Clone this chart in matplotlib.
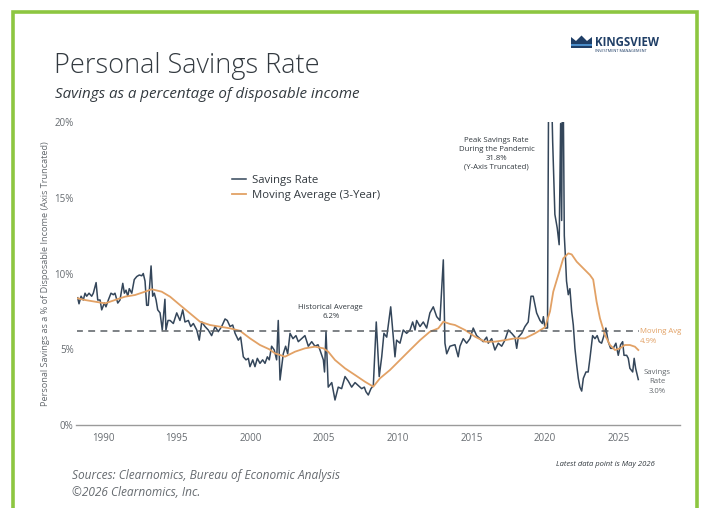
import matplotlib
matplotlib.use("Agg")
import matplotlib.pyplot as plt
from matplotlib.patches import Polygon, Rectangle

plt.rcParams['font.family'] = ['Open Sans', 'DejaVu Sans']

# savings rate (% of disposable income)
rate_years = [
    1988.28, 1988.37, 1988.51, 1988.66, 1988.78, 1988.89, 1989.05, 1989.23, 1989.34, 1989.53,
    1989.64, 1989.80, 1989.91, 1990.09, 1990.20, 1990.36, 1990.54, 1990.70, 1990.81, 1991.00,
    1991.15, 1991.34, 1991.45, 1991.56, 1991.68, 1991.78, 1991.95, 1992.12, 1992.29, 1992.46,
    1992.63, 1992.73, 1992.85, 1992.96, 1993.07, 1993.26, 1993.37, 1993.48, 1993.60, 1993.71,
    1993.87, 1994.02, 1994.20, 1994.27, 1994.41, 1994.55, 1994.77, 1995.00, 1995.22, 1995.41,
    1995.56, 1995.79, 1995.95, 1996.13, 1996.36, 1996.53, 1996.70, 1996.92, 1997.14, 1997.37,
    1997.60, 1997.82, 1998.05, 1998.28, 1998.43, 1998.62, 1998.80, 1998.96, 1999.18, 1999.34,
    1999.52, 1999.70, 1999.86, 1999.97, 2000.16, 2000.31, 2000.47, 2000.65, 2000.83, 2000.99,
    2001.15, 2001.28, 2001.44, 2001.62, 2001.78, 2001.89, 2002.01, 2002.23, 2002.39, 2002.53,
    2002.69, 2002.89, 2003.09, 2003.25, 2003.48, 2003.70, 2003.93, 2004.16, 2004.38, 2004.59,
    2004.72, 2004.95, 2005.03, 2005.13, 2005.28, 2005.52, 2005.74, 2005.96, 2006.19, 2006.42,
    2006.64, 2006.87, 2007.10, 2007.32, 2007.55, 2007.73, 2007.84, 2008.00, 2008.18, 2008.34,
    2008.54, 2008.74, 2008.91, 2009.06, 2009.25, 2009.52, 2009.70, 2009.81, 2009.92, 2010.15,
    2010.37, 2010.60, 2010.83, 2011.01, 2011.17, 2011.28, 2011.51, 2011.73, 2011.96, 2012.18,
    2012.41, 2012.64, 2012.86, 2013.09, 2013.20, 2013.32, 2013.54, 2013.88, 2014.10, 2014.22,
    2014.44, 2014.67, 2014.90, 2015.12, 2015.35, 2015.58, 2015.80, 2016.03, 2016.14, 2016.37,
    2016.59, 2016.82, 2017.05, 2017.27, 2017.50, 2017.73, 2017.95, 2018.07, 2018.18, 2018.41,
    2018.63, 2018.85, 2019.04, 2019.19, 2019.42, 2019.65, 2019.81, 2019.88, 2019.99, 2020.16,
    2020.28, 2020.39, 2020.51, 2020.66, 2020.82, 2020.95, 2021.05, 2021.12, 2021.19, 2021.30,
    2021.37, 2021.45, 2021.57, 2021.68, 2021.80, 2021.91, 2022.02, 2022.14, 2022.25, 2022.36,
    2022.48, 2022.59, 2022.77, 2022.92, 2023.04, 2023.22, 2023.38, 2023.53, 2023.67, 2023.83,
    2023.99, 2024.12, 2024.28, 2024.44, 2024.62, 2024.80, 2024.96, 2025.12, 2025.26, 2025.35,
    2025.53, 2025.64, 2025.75, 2025.94, 2026.04, 2026.14, 2026.32,
]
rate_vals = [
    8.4, 8.0, 8.5, 8.25, 8.7, 8.5, 8.7, 8.5, 8.7, 9.4,
    8.25, 8.25, 7.6, 8.05, 7.8, 8.25, 8.7, 8.6, 8.7, 8.05,
    8.25, 9.35, 8.7, 8.9, 8.5, 9.0, 8.7, 9.6, 9.8, 9.9,
    9.85, 10.0, 9.5, 7.9, 7.9, 10.5, 8.5, 8.7, 8.25, 7.6,
    7.4, 6.27, 8.3, 6.27, 6.9, 6.9, 6.7, 7.4, 6.9, 7.6,
    6.8, 6.9, 6.5, 6.7, 6.27, 5.6, 6.8, 6.5, 6.27, 5.9,
    6.5, 6.16, 6.5, 7.0, 6.9, 6.5, 6.6, 6.05, 5.6, 5.8,
    4.5, 4.3, 4.4, 3.85, 4.3, 3.85, 4.4, 4.07, 4.3, 4.07,
    4.5, 4.3, 5.2, 4.95, 4.3, 6.9, 2.97, 4.7, 5.2, 4.7,
    6.05, 5.7, 5.9, 5.5, 5.7, 5.9, 5.2, 5.5, 5.2, 5.3,
    4.95, 4.3, 3.5, 6.16, 2.5, 2.8, 1.65, 2.5, 2.4, 3.2,
    2.9, 2.5, 2.8, 2.6, 2.4, 2.5, 2.2, 1.98, 2.4, 2.6,
    6.8, 3.2, 4.5, 6.05, 5.8, 7.8, 5.8, 4.5, 5.6, 5.4,
    6.27, 6.05, 6.27, 6.8, 6.27, 6.9, 6.5, 6.8, 6.4, 7.4,
    7.8, 7.15, 6.9, 10.9, 5.4, 4.7, 5.2, 5.3, 4.5, 5.2,
    5.7, 5.4, 5.7, 6.4, 5.9, 5.7, 5.5, 5.8, 5.4, 5.7,
    4.95, 5.4, 5.2, 5.6, 6.27, 6.05, 5.8, 5.06, 5.8, 6.05,
    6.5, 6.8, 8.5, 8.5, 7.4, 6.9, 6.7, 7.15, 6.4, 6.4,
    31.8, 24.0, 18.7, 13.9, 13.0, 11.9, 19.9, 13.5, 26.6, 12.5,
    11.2, 9.5, 8.6, 9.0, 7.5, 6.6, 5.06, 3.96, 3.08, 2.5,
    2.24, 3.08, 3.5, 3.5, 4.4, 5.9, 5.7, 5.9, 5.5, 5.4,
    5.9, 6.4, 5.5, 5.06, 5.06, 5.4, 4.6, 5.3, 5.5, 4.6,
    4.6, 4.4, 3.74, 3.5, 4.4, 3.74, 3.0,
]

# 3-year moving average
ma_years = [
    1988.28, 1988.78, 1989.46, 1990.14, 1990.81, 1991.49, 1992.17, 1992.85, 1993.30, 1993.98,
    1994.55, 1995.22, 1995.90, 1996.58, 1997.26, 1997.94, 1998.62, 1999.29, 1999.97, 2000.65,
    2001.28, 2001.67, 2002.35, 2003.03, 2003.70, 2004.38, 2004.95, 2005.28, 2005.74, 2006.42,
    2007.10, 2007.77, 2008.34, 2008.79, 2009.47, 2010.15, 2010.83, 2011.51, 2012.18, 2012.75,
    2013.09, 2013.54, 2013.88, 2014.56, 2015.24, 2015.92, 2016.59, 2017.27, 2017.95, 2018.63,
    2019.31, 2019.99, 2020.33, 2020.55, 2020.89, 2021.23, 2021.57, 2021.80, 2022.14, 2022.59,
    2023.04, 2023.26, 2023.49, 2023.72, 2024.06, 2024.40, 2024.74, 2025.07, 2025.41, 2025.75,
    2026.09, 2026.32,
]
ma_vals = [
    8.36, 8.25, 8.14, 8.03, 8.25, 8.47, 8.58, 8.8, 8.96, 8.8,
    8.47, 7.92, 7.37, 6.82, 6.6, 6.49, 6.38, 6.22, 5.72, 5.28,
    5.0, 4.73, 4.51, 4.84, 5.06, 5.17, 5.06, 4.84, 4.29, 3.74,
    3.3, 2.86, 2.53, 3.08, 3.63, 4.29, 4.95, 5.6, 6.16, 6.38,
    6.82, 6.67, 6.6, 6.27, 5.83, 5.5, 5.5, 5.6, 5.72, 5.72,
    6.05, 6.45, 7.5, 8.8, 9.9, 11.0, 11.33, 11.26, 10.78, 10.34,
    9.9, 9.6, 8.14, 7.04, 5.94, 5.28, 4.95, 5.06, 5.28, 5.28,
    5.17, 4.95,
]

hist_avg = 6.2
x_ticks = [1990, 1995, 2000, 2005, 2010, 2015, 2020, 2025]
y_ticks = [0, 5, 10, 15, 20]

c_rate = "#34465a"
c_ma = "#e2a165"
c_text = "#333a40"
c_gray = "#666b70"

W, H = 710, 508
fig = plt.figure(figsize=(W / 100, H / 100), dpi=100)
fig.patch.set_facecolor("white")

def fx(px):
    return px / W

def fy(py):
    return 1 - py / H

ax = fig.add_axes([fx(76.5), fy(425), fx(680) - fx(76.5), fy(122) - fy(425)])
ax.plot(rate_years, rate_vals, '-', color=c_rate, lw=1.1, label="Savings Rate")
ax.plot(ma_years, ma_vals, '-', color=c_ma, lw=1.3, label="Moving Average (3-Year)")
ax.plot([1988.2, 2026.35], [hist_avg, hist_avg], color="#5a5f64", lw=1.1,
        dashes=(4.5, 3.5))

ax.set_xlim(1988.2, 2029.15)
ax.set_ylim(0, 20)
ax.set_xticks(x_ticks)
ax.set_xticklabels([str(t) for t in x_ticks])
ax.set_yticks(y_ticks)
ax.set_yticklabels([f"{t}%" for t in y_ticks])
for s in ["top", "right", "left"]:
    ax.spines[s].set_visible(False)
ax.spines["bottom"].set_color("#9a9a9a")
ax.spines["bottom"].set_linewidth(1.0)
ax.tick_params(axis="x", length=0, pad=6, labelsize=7, labelcolor=c_gray)
ax.tick_params(axis="y", length=0, pad=2, labelsize=7, labelcolor=c_gray)
ax.set_ylabel("Personal Savings as a % of Disposable Income (Axis Truncated)",
              fontsize=6.6, color=c_gray, labelpad=3)

leg = ax.legend(loc="upper left", bbox_to_anchor=(0.24, 0.86), frameon=False,
                fontsize=8.2, handlelength=1.3, handletextpad=0.5, labelspacing=0.4)
for t in leg.get_texts():
    t.set_color(c_text)

ax.text(2005.45, 6.95, "Historical Average\n6.2%", ha="center", va="bottom",
        fontsize=5.6, color=c_text, linespacing=1.3)
ax.text(2016.7, 16.8, "Peak Savings Rate\nDuring the Pandemic\n31.8%\n(Y-Axis Truncated)",
        ha="center", va="bottom", fontsize=5.6, color=c_text, linespacing=1.35)
ax.text(2026.45, 5.85, "Moving Avg\n4.9%", ha="left", va="center", fontsize=5.6,
        color=c_ma, linespacing=1.5)
ax.text(2027.6, 2.85, "Savings\nRate\n3.0%", ha="center", va="center", fontsize=5.6,
        color=c_gray, linespacing=1.5)

# title block
fig.text(fx(54), fy(66), "Personal Savings Rate", fontsize=19.5, color=c_text,
         va="center", ha="left", fontweight="light")
fig.text(fx(55), fy(94), "Savings as a percentage of disposable income", fontsize=10.9,
         color=c_text, style="italic", va="center", ha="left")

# footer
fig.text(fx(655), fy(464), "Latest data point is May 2026", fontsize=5.5, color=c_text,
         style="italic", ha="right", va="center")
fig.text(fx(72), fy(476), "Sources: Clearnomics, Bureau of Economic Analysis", fontsize=8.6,
         color=c_gray, style="italic", ha="left", va="center")
fig.text(fx(72), fy(492), "\u00a92026 Clearnomics, Inc.", fontsize=8.6,
         color=c_gray, style="italic", ha="left", va="center")

# logo
crown = [(571, 37), (576, 41), (581.5, 35.5), (587, 41), (592, 37), (592, 48), (571, 48)]
fig.add_artist(Polygon([(fx(a), fy(b)) for a, b in crown], closed=True,
                       transform=fig.transFigure, facecolor="#1f3e66", edgecolor="none"))
fig.add_artist(Polygon([(fx(a), fy(b)) for a, b in [(571, 44), (592, 44), (592, 46), (571, 46)]],
                       closed=True, transform=fig.transFigure, facecolor="#4a8cc8",
                       edgecolor="none"))
fig.text(fx(595), fy(42.5), "KINGSVIEW", fontsize=8.3, fontweight="bold", color="#1f3e66",
         ha="left", va="center")
fig.text(fx(595), fy(50.5), "INVESTMENT MANAGEMENT", fontsize=2.8, color="#1f3e66",
         ha="left", va="center")

# green frame
fig.add_artist(Rectangle((fx(12.5), -0.05), fx(697) - fx(12.5), fy(12.5) + 0.05,
                         transform=fig.transFigure, fill=False, edgecolor="#8dc641",
                         linewidth=2.6))

fig.savefig("out.png", dpi=100)
